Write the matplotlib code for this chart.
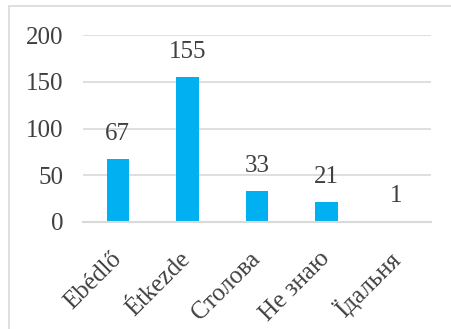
import matplotlib
matplotlib.use("Agg")
import matplotlib.pyplot as plt
from matplotlib.patches import Rectangle

categories = ["Ebédlő", "Étkezde", "Столова", "Не знаю", "Їдальня"]
values = [67, 155, 33, 21, 1]
yticks = [0, 50, 100, 150, 200]

plt.rcParams["font.family"] = ["Liberation Serif", "DejaVu Serif"]
text_color = "#404040"

fig = plt.figure(figsize=(4.51, 3.29), dpi=100)
ax = fig.add_axes([83 / 451, 1 - 222 / 329, (431 - 83) / 451, (222 - 35) / 329])

x = range(len(categories))
ax.bar(x, values, width=0.32, color="#00B0F0", zorder=2)
for xi, v in zip(x, values):
    ax.annotate(str(v), (xi, v), xytext=(0, 10), textcoords="offset points",
                ha="center", va="bottom", fontsize=18, color=text_color)

ax.set_xlim(-0.5, len(categories) - 0.5)
ax.set_ylim(0, 200)
ax.set_yticks(yticks)
ax.set_yticklabels([str(t) for t in yticks], fontsize=18, color=text_color)
ax.set_xticks(list(x))
ax.set_xticklabels(categories, rotation=45, ha="right", va="center",
                   rotation_mode="anchor", fontsize=18, color=text_color)
ax.tick_params(axis="y", length=0, pad=14)
ax.tick_params(axis="x", length=0, pad=24)
ax.grid(axis="y", color="#D9D9D9", linewidth=1.2, zorder=0)
for side in ("left", "right", "top"):
    ax.spines[side].set_visible(False)
ax.spines["bottom"].set_color("#D9D9D9")
ax.spines["bottom"].set_linewidth(1.5)
ax.spines["bottom"].set_zorder(3)

fig.patches.append(Rectangle((9 / 451, -0.1), 1.0, 1 - 6 / 329 + 0.1,
                             transform=fig.transFigure, fill=False,
                             edgecolor="#D9D9D9", linewidth=1.2))

fig.savefig("out.png", dpi=100)
